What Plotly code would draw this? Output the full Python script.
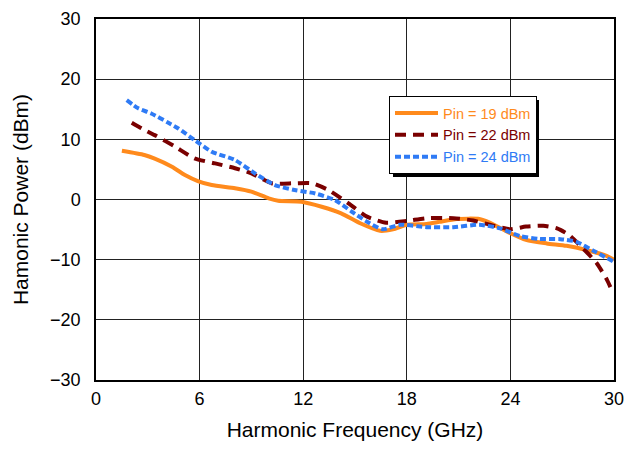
import plotly.graph_objects as go

# Pin = 19 dBm
f19 = [1.5, 2.8, 3.4, 4.4, 5.15, 5.9, 6.7, 8.05, 9.0, 10.0, 10.55, 11.9, 13.07, 14.2, 15.3, 16.45, 17.2, 18.0, 19.15, 19.9, 20.9, 22.2, 22.8, 24.0, 24.9, 26.1, 27.25, 28.4, 29.6, 30.0]
p19 = [8.1, 7.4, 6.8, 5.45, 4.07, 3.07, 2.4, 1.86, 1.3, 0.2, -0.2, -0.36, -1.2, -2.3, -3.95, -5.2, -4.95, -4.2, -4.07, -3.7, -3.24, -3.24, -3.85, -5.6, -6.7, -7.3, -7.7, -8.4, -9.4, -10.05]

# Pin = 22 dBm
f22 = [2.07, 2.65, 3.4, 4.57, 5.7, 6.9, 8.05, 9.0, 10.17, 11.5, 12.5, 13.45, 14.6, 15.7, 16.8, 18.0, 19.15, 20.7, 21.85, 22.8, 24.0, 24.9, 25.9, 26.7, 27.4, 28.2, 29.0, 29.6, 29.86]
p22 = [12.76, 11.8, 10.7, 8.8, 6.85, 6.0, 5.2, 4.35, 2.7, 2.7, 2.7, 1.58, -0.6, -2.85, -3.85, -3.57, -3.1, -3.1, -3.5, -4.2, -4.95, -4.5, -4.35, -4.8, -5.9, -8.1, -10.6, -13.4, -15.0]

# Pin = 24 dBm
f24 = [1.78, 2.45, 3.2, 4.19, 4.77, 5.7, 6.7, 8.05, 9.2, 10.36, 11.5, 12.7, 13.84, 14.8, 15.7, 16.6, 17.6, 19.15, 20.7, 22.2, 23.4, 24.55, 25.7, 26.9, 27.8, 28.8, 29.95]
p24 = [16.5, 15.15, 14.3, 12.76, 11.8, 9.9, 7.95, 6.56, 4.35, 2.4, 1.58, 1.0, -0.1, -2.0, -3.7, -4.95, -4.2, -4.6, -4.6, -4.2, -4.8, -6.06, -6.56, -6.6, -7.0, -8.5, -10.3]

names = ["Pin = 19 dBm", "Pin = 22 dBm", "Pin = 24 dBm"]
colors = ["#FF8A1C", "#7A0000", "#2F7BF5"]
dashes = ["solid", "11px,7px", "6px,3px"]

x_ticks = [0, 6, 12, 18, 24, 30]
y_ticks = [-30, -20, -10, 0, 10, 20, 30]

W, H = 626, 449
L, R, T, B = 96, 12, 19, 69
pw, ph = W - L - R, H - T - B

fig = go.Figure()
for fx, py, nm, c, d in zip([f19, f22, f24], [p19, p22, p24], names, colors, dashes):
    fig.add_trace(go.Scatter(
        x=fx, y=py, mode="lines",
        name=f"<span style='color:{c}'>{nm}</span>",
        line=dict(color=c, width=4, dash=d, shape="spline", smoothing=0.6),
    ))

# legend placement (pixels) and its drop shadow
lg_left, lg_top = 389, 96
lg_w, lg_h = 146, 77
lx = (lg_left - L) / pw
ly = (H - B - lg_top) / ph
fig.add_shape(
    type="rect", xref="paper", yref="paper", layer="above",
    x0=(lg_left + 4 - L) / pw, x1=(lg_left + lg_w + 4 - L) / pw,
    y0=(H - B - (lg_top + lg_h + 4)) / ph, y1=(H - B - (lg_top + 4)) / ph,
    fillcolor="black", line=dict(width=0),
)

fig.update_layout(
    width=W, height=H,
    margin=dict(l=L, r=R, t=T, b=B, autoexpand=False),
    paper_bgcolor="white", plot_bgcolor="white",
    font=dict(family="Liberation Sans, Arial, sans-serif", size=18, color="black"),
    showlegend=True,
    legend=dict(
        x=lx, y=ly, xanchor="left", yanchor="top",
        bgcolor="white", bordercolor="black", borderwidth=1,
        font=dict(size=14.5), tracegroupgap=0, itemwidth=43,
    ),
)
fig.update_xaxes(
    range=[0, 30], tickvals=x_ticks, ticks="", showgrid=True, gridcolor="#222222", gridwidth=1,
    showline=True, linecolor="black", linewidth=1.5, mirror=True, zeroline=False,
    automargin=False, ticklabelstandoff=2,
    title=dict(text="Harmonic Frequency (GHz)", font=dict(size=21), standoff=14),
)
fig.update_yaxes(
    range=[-30, 30], tickvals=y_ticks, ticks="", showgrid=True, gridcolor="#222222", gridwidth=1,
    showline=True, linecolor="black", linewidth=1.5, mirror=True, zeroline=False,
    automargin=False, ticklabelstandoff=10,
    title=dict(text="Hamonic Power (dBm)", font=dict(size=21), standoff=16),
)

fig.write_html("out.html", config={"displayModeBar": False},
               post_script="document.body.style.margin='0';")
